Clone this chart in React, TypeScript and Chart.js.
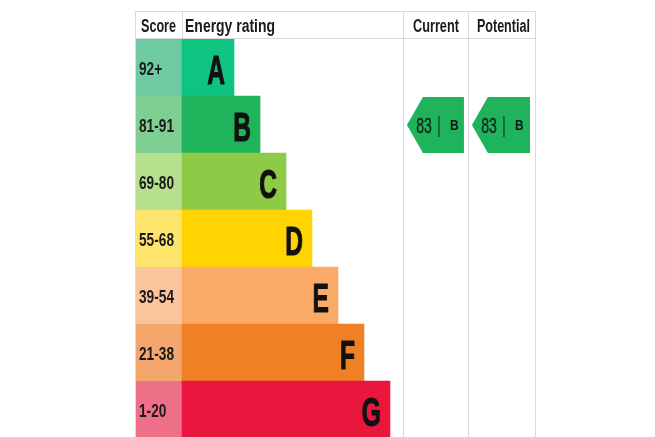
import React, { useEffect, useRef } from 'react';
import { Chart, registerables } from 'chart.js';

Chart.register(...registerables);

const ratings = ['A', 'B', 'C', 'D', 'E', 'F', 'G'];
const scoreBands = ['92+', '81-91', '69-80', '55-68', '39-54', '21-38', '1-20'];
const bandMin = [92, 81, 69, 55, 39, 21, 1];
const barLengths = [2, 3, 4, 5, 6, 7, 8];
const barColors = ['#0fc381', '#1fb35b', '#8dcb47', '#ffd400', '#fbab67', '#ef8026', '#e9173e'];
const scoreColors = ['#6dcaa3', '#7fcf92', '#b6e08e', '#ffe46c', '#fcc49d', '#f4a66c', '#ee6f88'];
const headers = ['Score', 'Energy rating', 'Current', 'Potential'];
const currentScore = 83;
const potentialScore = 83;

const FONT = '"Liberation Sans", Arial, sans-serif';
const GRID = '#d9d9d9';

function bandIndex(score: number) {
  for (let i = 0; i < bandMin.length; i++) if (score >= bandMin[i]) return i;
  return bandMin.length - 1;
}

function drawText(
  ctx: CanvasRenderingContext2D, text: string, x: number, y: number, size: number, weight: string,
  color: string, sx: number, align: CanvasTextAlign, fitWidth?: number, strokeW?: number,
) {
  ctx.save();
  ctx.font = `${weight} ${size}px ${FONT}`;
  ctx.fillStyle = color;
  ctx.strokeStyle = color;
  ctx.textBaseline = 'alphabetic';
  ctx.textAlign = align;
  let scale = sx;
  if (fitWidth) {
    const w = ctx.measureText(text).width;
    if (w > 0) scale = fitWidth / w;
  }
  ctx.translate(x, y);
  ctx.scale(scale, 1);
  ctx.fillText(text, 0, 0);
  if (strokeW) {
    ctx.lineWidth = strokeW;
    ctx.lineJoin = 'round';
    ctx.strokeText(text, 0, 0);
  }
  ctx.restore();
}

const tablePlugin = {
  id: 'epcTable',
  beforeDatasetsDraw(chart: any) {
    const { ctx, chartArea: ca, scales } = chart;
    const xs = scales.x;
    const meta = chart.getDatasetMeta(0);
    const zeroX = xs.getPixelForValue(0);
    ctx.save();
    meta.data.forEach((bar: any, i: number) => {
      const p = bar.getProps(['y', 'height'], true);
      ctx.fillStyle = scoreColors[i];
      ctx.fillRect(ca.left, p.y - p.height / 2, zeroX - ca.left, p.height);
    });
    const topY = 11.5;
    const headY = ca.top - 0.5;
    const curX = xs.getPixelForValue(8.5);
    const potX = xs.getPixelForValue(11);
    ctx.strokeStyle = GRID;
    ctx.lineWidth = 1;
    ctx.beginPath();
    ctx.moveTo(ca.left, topY); ctx.lineTo(ca.right, topY);
    ctx.moveTo(ca.left, headY); ctx.lineTo(ca.right, headY);
    [ca.left + 0.5, Math.round(curX) + 0.5, Math.round(potX) + 0.5, ca.right - 0.5].forEach((vx) => {
      ctx.moveTo(vx, topY); ctx.lineTo(vx, ca.bottom);
    });
    ctx.moveTo(Math.round(zeroX) + 0.5, topY); ctx.lineTo(Math.round(zeroX) + 0.5, headY);
    ctx.stroke();
    ctx.restore();
  },
  afterDatasetsDraw(chart: any) {
    const { ctx, chartArea: ca, scales } = chart;
    const xs = scales.x;
    const meta = chart.getDatasetMeta(0);
    const zeroX = xs.getPixelForValue(0);
    const curX = xs.getPixelForValue(8.5);
    const potX = xs.getPixelForValue(11);
    // header
    const hb = 32;
    const hc = '#1a1a1a';
    drawText(ctx, headers[0], ca.left + 6, hb, 18, 'bold', hc, 1, 'left', 35);
    drawText(ctx, headers[1], zeroX + 3, hb, 18, 'bold', hc, 1, 'left', 90);
    drawText(ctx, headers[2], curX + 10, hb, 18, 'bold', hc, 1, 'left', 46);
    drawText(ctx, headers[3], potX + 9, hb, 18, 'bold', hc, 1, 'left', 53);
    // rows
    meta.data.forEach((bar: any, i: number) => {
      const p = bar.getProps(['x', 'y', 'height'], true);
      drawText(ctx, scoreBands[i], ca.left + 4, p.y + 7, 18, 'bold', '#1a1a1a', 0.76, 'left');
      drawText(ctx, ratings[i], p.x - 9, p.y + 16, 41, 'bold', '#111111', 0.6, 'right', undefined, 1.1);
    });
    // arrows
    const drawArrow = (score: number, colL: number, colR: number, rInset: number) => {
      const bi = bandIndex(score);
      const p = meta.data[bi].getProps(['y', 'height'], true);
      const top = p.y - p.height / 2 + 1;
      const bot = p.y + p.height / 2;
      const x0 = colL + 4;
      const x1 = colR - rInset;
      ctx.save();
      ctx.fillStyle = barColors[bi];
      ctx.beginPath();
      ctx.moveTo(x0, (top + bot) / 2);
      ctx.lineTo(x0 + 16, top);
      ctx.lineTo(x1, top);
      ctx.lineTo(x1, bot);
      ctx.lineTo(x0 + 16, bot);
      ctx.closePath();
      ctx.fill();
      ctx.restore();
      const tc = '#152a1b';
      drawText(ctx, String(score), x0 + 25, p.y + 8.5, 22, 'normal', tc, 0.64, 'right', undefined, 0.4);
      drawText(ctx, '|', x0 + 32, p.y + 7.5, 22, 'normal', tc, 0.6, 'center');
      drawText(ctx, ratings[bi], x0 + 43, p.y + 5.5, 14, 'bold', '#111111', 0.85, 'left');
    };
    drawArrow(currentScore, curX, potX, 4);
    drawArrow(potentialScore, potX, ca.right, 6);
  },
};

export default function App() {
  const ref = useRef<HTMLCanvasElement | null>(null);
  useEffect(() => {
    if (!ref.current) return;
    const chart = new Chart(ref.current, {
      type: 'bar',
      data: {
        labels: ratings,
        datasets: [
          {
            label: 'Energy rating',
            data: barLengths,
            backgroundColor: barColors,
            borderWidth: 0,
            categoryPercentage: 1,
            barPercentage: 1,
          },
        ],
      },
      options: {
        indexAxis: 'y',
        responsive: false,
        animation: false,
        devicePixelRatio: 1,
        layout: { padding: { left: 135, right: 119, top: 39, bottom: 0 } },
        plugins: { legend: { display: false }, tooltip: { enabled: false }, title: { display: false } },
        scales: {
          x: { type: 'linear', min: -1.81, max: 13.62, display: false },
          y: { type: 'category', display: false },
        },
      },
      plugins: [tablePlugin],
    });
    return () => chart.destroy();
  }, []);
  return (
    <div style={{ position: 'fixed', left: 0, top: 0, width: 655, height: 437, overflow: 'hidden', background: '#fff' }}>
      <canvas ref={ref} width={655} height={438} style={{ display: 'block' }} />
    </div>
  );
}
